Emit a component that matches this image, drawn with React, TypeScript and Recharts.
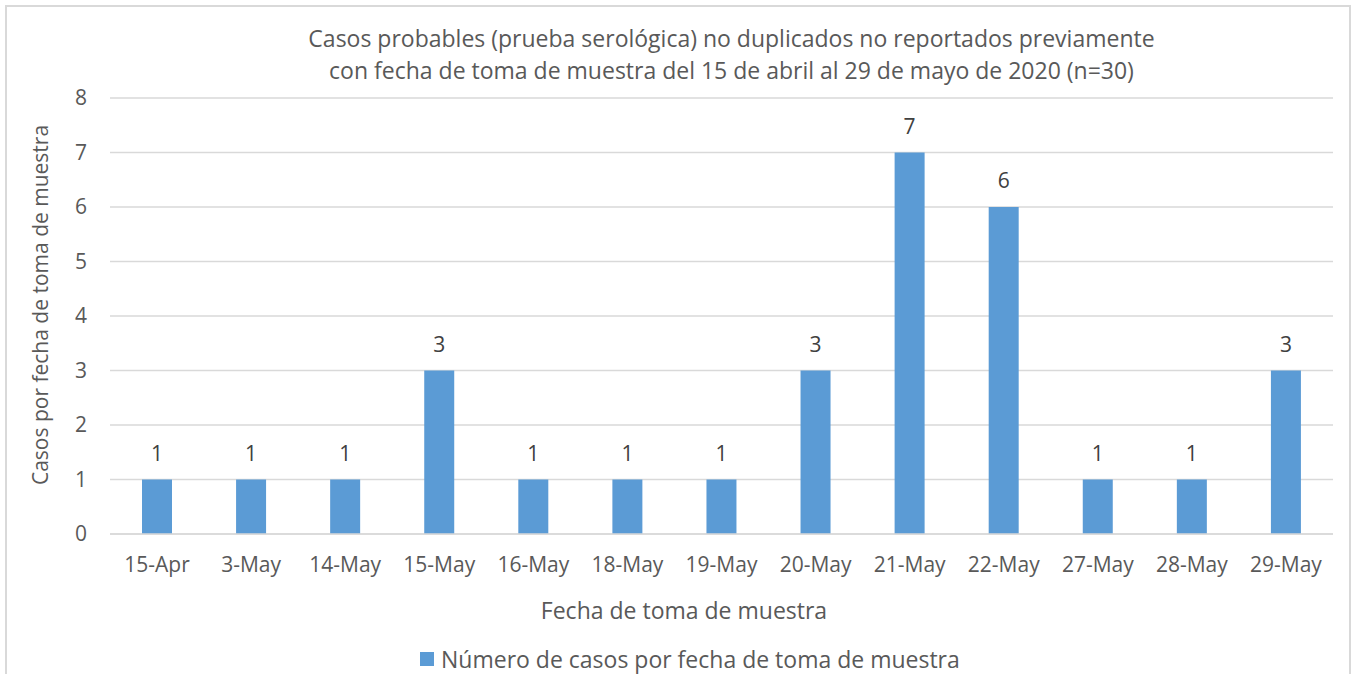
import React from 'react';
import { BarChart, Bar, XAxis, YAxis, CartesianGrid, LabelList } from 'recharts';

const dates = ['15-Apr', '3-May', '14-May', '15-May', '16-May', '18-May', '19-May', '20-May', '21-May', '22-May', '27-May', '28-May', '29-May'];
const cases = [1, 1, 1, 3, 1, 1, 1, 3, 7, 6, 1, 1, 3];
const yTicks = [0, 1, 2, 3, 4, 5, 6, 7, 8];

const titleLines = [
  'Casos probables (prueba serológica) no duplicados no reportados previamente',
  'con fecha de toma de muestra del 15 de abril al 29 de mayo de 2020 (n=30)',
];
const seriesName = 'Número de casos por fecha de toma de muestra';

const data = dates.map((d, i) => ({ date: d, value: cases[i] }));

const font = '"Open Sans", sans-serif';
const textGray = '#595959';

const App: React.FC = () => {
  return (
    <div style={{ position: 'absolute', left: 0, top: 0, width: 1351, height: 674, background: '#fff', fontFamily: font, overflow: 'hidden' }}>
      <div style={{ position: 'absolute', left: 5, top: 5, width: 1342, height: 700, border: '2px solid #d9d9d9' }} />
      {titleLines.map((t, i) => (
        <div key={i} style={{ position: 'absolute', left: 110, width: 1243, top: 22 + i * 32, textAlign: 'center', fontSize: 23, lineHeight: '32px', color: textGray, whiteSpace: 'nowrap' }}>
          {t}
        </div>
      ))}
      <div style={{ position: 'absolute', left: 0, top: 0 }}>
        <BarChart width={1351} height={674} data={data} margin={{ top: 98, right: 18, left: 0, bottom: 0 }}>
          <CartesianGrid vertical={false} stroke="#d9d9d9" strokeWidth={1.3} />
          <XAxis
            dataKey="date"
            height={140}
            tickLine={false}
            axisLine={{ stroke: '#d9d9d9', strokeWidth: 1.3 }}
            tickMargin={17}
            interval={0}
            tick={{ fill: textGray, fontSize: 21, fontFamily: font }}
          />
          <YAxis
            width={110}
            domain={[0, 8]}
            ticks={yTicks}
            tickLine={false}
            axisLine={false}
            tickMargin={17}
            tick={{ fill: textGray, fontSize: 21, fontFamily: font }}
          />
          <Bar dataKey="value" fill="#5b9bd5" barSize={30} isAnimationActive={false}>
            <LabelList dataKey="value" position="top" offset={19} fill="#404040" fontSize={21} fontFamily={font} />
          </Bar>
        </BarChart>
      </div>
      <div style={{ position: 'absolute', left: 40, top: 305, transform: 'translate(-50%, -50%) rotate(-90deg)', fontSize: 21, color: textGray, whiteSpace: 'nowrap' }}>
        Casos por fecha de toma de muestra
      </div>
      <div style={{ position: 'absolute', left: 0, width: 1368, top: 594, textAlign: 'center', fontSize: 23, lineHeight: '32px', color: textGray }}>
        Fecha de toma de muestra
      </div>
      <div style={{ position: 'absolute', left: 420, top: 643, display: 'flex', alignItems: 'center', fontSize: 23, lineHeight: '32px', color: textGray, whiteSpace: 'nowrap' }}>
        <span style={{ display: 'inline-block', width: 14, height: 14, background: '#5b9bd5', marginRight: 7 }} />
        {seriesName}
      </div>
    </div>
  );
};

export default App;
